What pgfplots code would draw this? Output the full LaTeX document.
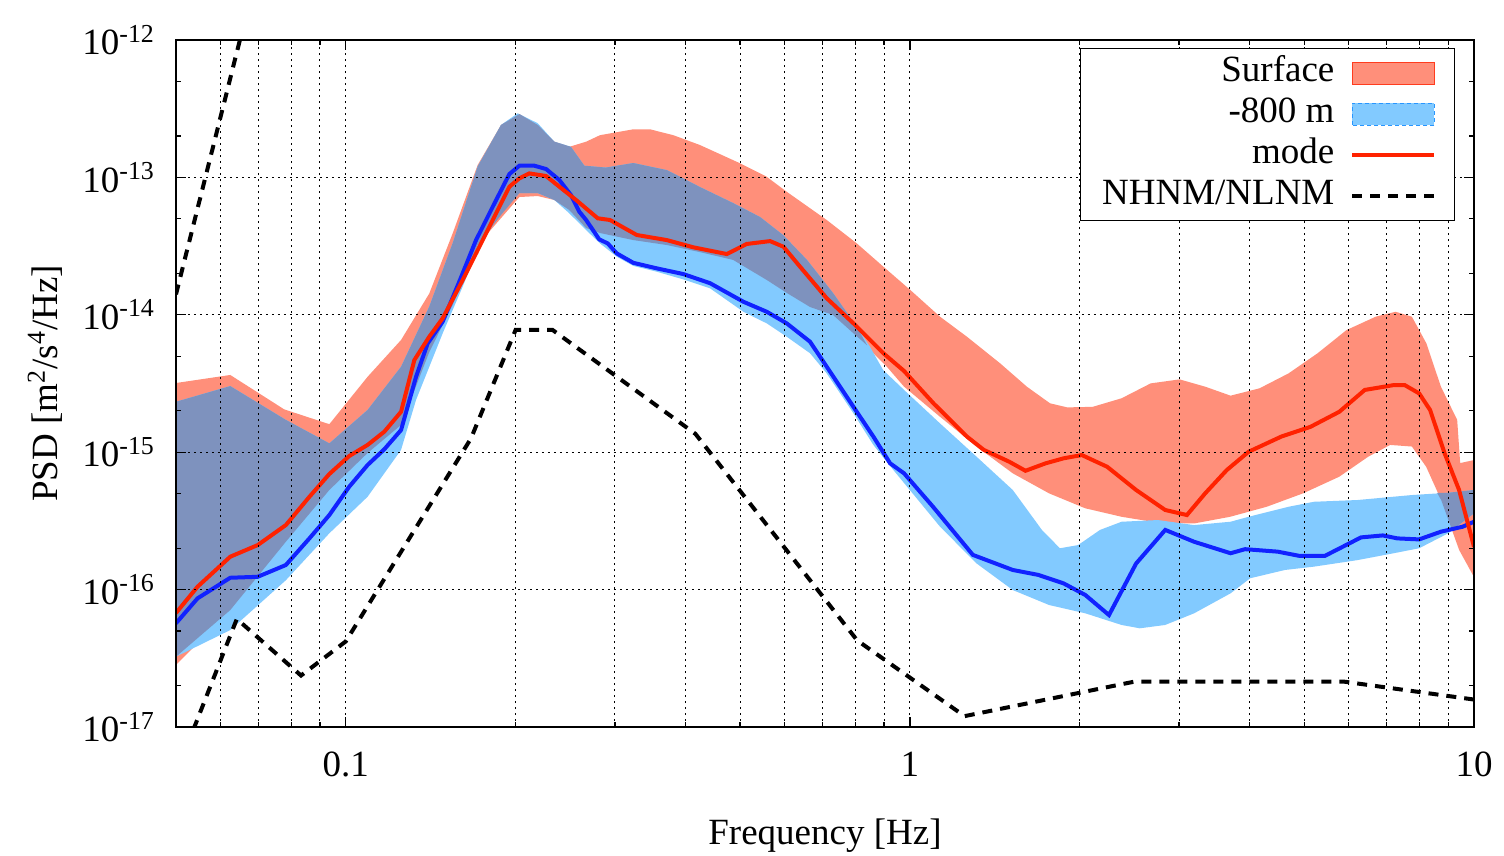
\documentclass[border=0pt]{standalone}
\usepackage{fontspec}
\setmainfont{Liberation Serif}
\usepackage{pgfplots}
\pgfplotsset{compat=1.18}
\definecolor{surf}{RGB}{255,143,122}
\definecolor{surfedge}{RGB}{255,60,30}
\definecolor{deep}{RGB}{130,202,255}
\definecolor{deepedge}{RGB}{40,150,255}
\definecolor{ovl}{RGB}{126,146,190}
\definecolor{modered}{RGB}{255,34,0}
\definecolor{modeblue}{RGB}{17,34,255}
\begin{document}
\begin{tikzpicture}[font=\fontsize{18.5}{22}\selectfont]
\begin{axis}[
  scale only axis, width=649pt, height=343.5pt,
  xmode=log, ymode=log,
  xmin=0.05, xmax=10, ymin=1e-17, ymax=1e-12,
  xtick={0.1,1,10}, xticklabels={0.1,1,10},
  minor xtick={0.06,0.07,0.08,0.09,0.2,0.3,0.4,0.5,0.6,0.7,0.8,0.9,2,3,4,5,6,7,8,9},
  ytick={1e-17,1e-16,1e-15,1e-14,1e-13,1e-12},
  yticklabels={10\textsuperscript{-17},10\textsuperscript{-16},10\textsuperscript{-15},10\textsuperscript{-14},10\textsuperscript{-13},10\textsuperscript{-12}},
  minor ytick={2e-17,5e-17,2e-16,5e-16,2e-15,5e-15,2e-14,5e-14,2e-13,5e-13},
  xmajorgrids=true, xminorgrids=true, ymajorgrids=true,
  major grid style={black, line width=0.5pt, dash pattern=on 0.8pt off 2.2pt},
  minor grid style={black, line width=0.5pt, dash pattern=on 0.8pt off 2.2pt},
  major tick length=5pt, minor tick length=2.5pt,
  every tick/.style={black, line width=0.6pt},
  axis line style={line width=0.9pt},
  axis on top,
  xticklabel style={yshift=-9pt},
  yticklabel style={xshift=-7pt},
  xlabel={Frequency [Hz]},
  ylabel={PSD [m\textsuperscript{2}/s\textsuperscript{4}/Hz]},
  xlabel style={at={(axis description cs:0.5,-0.1586)}, anchor=center},
  ylabel style={at={(axis description cs:-0.1009,0.5)}, anchor=center},
  legend cell align=right, legend plot pos=right,
  legend style={at={(1,1)}, anchor=north east, xshift=-9.5pt, yshift=-4pt,
    draw=black, line width=0.6pt, fill=white,
    inner xsep=9pt, inner ysep=2pt, row sep=0pt, column sep=6pt,
    nodes={inner sep=2pt, text height=12.5pt, text depth=4pt},
    font=\fontsize{18.5}{22}\selectfont},
]
% Surface band
\addplot[fill=surf, draw=none, forget plot] coordinates {
(0.05,3.19e-15) (0.0624,3.65e-15) (0.0778,2.05e-15) (0.0935,1.60e-15) (0.1093,3.54e-15)
(0.1253,6.56e-15) (0.1406,1.43e-14) (0.1547,3.92e-14) (0.1713,1.231e-13) (0.1885,2.41e-13)
(0.2031,2.89e-13) (0.2189,2.41e-13) (0.2343,1.82e-13) (0.2490,1.67e-13) (0.2667,1.82e-13)
(0.2823,2.03e-13) (0.3234,2.24e-13) (0.3462,2.24e-13) (0.3807,2.03e-13) (0.4246,1.72e-13)
(0.5000,1.267e-13) (0.5574,1.012e-13) (0.6048,7.87e-14) (0.7122,4.90e-14) (0.8052,3.31e-14)
(0.8975,2.24e-14) (1.001,1.52e-14) (1.131,9.69e-15) (1.262,6.93e-15) (1.445,4.44e-15)
(1.612,3.00e-15) (1.772,2.27e-15) (1.901,2.12e-15) (2.109,2.14e-15) (2.373,2.47e-15)
(2.672,3.17e-15) (3.008,3.39e-15) (3.338,3.00e-15) (3.703,2.58e-15) (4.168,2.92e-15)
(4.692,3.75e-15) (5.281,5.25e-15) (5.944,7.75e-15) (6.694,9.69e-15) (7.261,1.053e-14)
(7.762,9.69e-15) (8.234,6.20e-15) (8.737,3.00e-15) (9.337,1.72e-15) (9.452,8.34e-16)
(10,8.77e-16)
(10,1.235e-16) (9.414,1.94e-16) (8.746,4.49e-16) (8.226,7.84e-16) (7.762,1.10e-15)
(7.101,1.13e-15) (6.492,9.27e-16) (5.768,6.63e-16) (4.977,5.02e-16) (4.291,4.01e-16)
(3.696,3.39e-16) (3.190,3.03e-16) (2.753,3.07e-16) (2.373,3.39e-16) (2.045,3.91e-16)
(1.765,5.02e-16) (1.522,7.02e-16) (1.313,1.10e-15) (1.131,1.81e-15) (0.9765,3.00e-15)
(0.9112,4.17e-15) (0.8397,5.83e-15) (0.7932,7.37e-15) (0.7309,9.97e-15) (0.6653,1.14e-14)
(0.6056,1.44e-14) (0.5580,1.79e-14) (0.4860,2.51e-14) (0.4246,2.86e-14) (0.3711,3.22e-14)
(0.3234,3.50e-14) (0.2823,3.94e-14) (0.2667,4.28e-14) (0.2490,5.79e-14) (0.2343,6.85e-14)
(0.2189,7.32e-14) (0.2031,7.20e-14) (0.1885,5.06e-14) (0.1713,3.22e-14) (0.1547,1.18e-14)
(0.1406,5.36e-15) (0.1253,1.58e-15) (0.1093,9.87e-16) (0.0935,5.31e-16) (0.0783,2.23e-16)
(0.0624,7.10e-17) (0.05,2.83e-17)
} -- cycle;
% -800 m band
\addplot[fill=deep, draw=none, forget plot] coordinates {
(0.05,2.33e-15) (0.0624,3.03e-15) (0.0783,1.72e-15) (0.0935,1.16e-15) (0.1093,2.03e-15)
(0.1253,4.19e-15) (0.1406,1.15e-14) (0.1547,3.33e-14) (0.1713,1.20e-13) (0.1885,2.41e-13)
(0.2017,2.93e-13) (0.2189,2.48e-13) (0.2343,1.82e-13) (0.2507,1.67e-13) (0.2648,1.217e-13)
(0.2892,1.18e-13) (0.3234,1.273e-13) (0.3711,1.13e-13) (0.4246,8.51e-14) (0.4860,6.51e-14)
(0.5426,5.15e-14) (0.5959,3.81e-14) (0.6571,2.51e-14) (0.7309,1.44e-14) (0.8060,8.15e-15)
(0.8501,5.83e-15) (0.8963,3.97e-15) (0.9765,2.84e-15) (1.131,1.62e-15) (1.313,9.27e-16)
(1.522,5.31e-16) (1.714,2.72e-16) (1.845,2.00e-16) (1.987,2.11e-16) (2.173,2.72e-16)
(2.373,3.12e-16) (2.753,3.21e-16) (3.190,2.95e-16) (3.703,3.12e-16) (3.986,3.39e-16)
(4.692,4.01e-16) (5.204,4.36e-16) (6.216,4.49e-16) (7.762,4.88e-16) (9.001,5.07e-16)
(10,5.31e-16)
(10,3.59e-16) (9.001,2.57e-16) (7.995,2.00e-16) (7.206,1.84e-16) (6.216,1.64e-16)
(5.204,1.47e-16) (4.623,1.39e-16) (4.011,1.21e-16) (3.703,9.40e-17) (3.190,6.72e-17)
(2.835,5.53e-17) (2.556,5.23e-17) (2.373,5.53e-17) (2.047,6.72e-17) (1.765,7.73e-17)
(1.522,9.93e-17) (1.313,1.55e-16) (1.131,2.87e-16) (0.9765,5.97e-16) (0.9348,7.42e-16)
(0.8615,1.13e-15) (0.7943,1.92e-15) (0.7122,3.75e-15) (0.6653,5.25e-15) (0.6048,6.93e-15)
(0.5574,8.67e-15) (0.5068,1.053e-14) (0.4422,1.56e-14) (0.3967,1.81e-14) (0.3557,2.06e-14)
(0.3234,2.27e-14) (0.3022,2.65e-14) (0.2823,3.31e-14) (0.2667,4.14e-14) (0.2490,5.48e-14)
(0.2343,6.85e-14) (0.2189,7.70e-14) (0.2031,7.70e-14) (0.1869,5.33e-14) (0.1713,2.96e-14)
(0.1611,1.60e-14) (0.1485,7.33e-15) (0.1332,2.40e-15) (0.1253,1.04e-15) (0.1093,4.74e-16)
(0.0935,2.57e-16) (0.0783,1.17e-16) (0.0624,5.08e-17) (0.05,3.25e-17)
} -- cycle;
% overlap of the two bands
\addplot[fill=ovl, draw=none, forget plot] coordinates {
(0.05,2.33e-15) (0.0624,3.03e-15) (0.0783,1.72e-15) (0.0935,1.16e-15) (0.1093,2.03e-15)
(0.1253,4.19e-15) (0.1406,1.15e-14) (0.1547,3.33e-14) (0.1713,1.20e-13) (0.1885,2.41e-13)
(0.2031,2.89e-13) (0.2189,2.41e-13) (0.2343,1.82e-13) (0.2507,1.67e-13) (0.2648,1.217e-13)
(0.2892,1.18e-13) (0.3234,1.273e-13) (0.3711,1.13e-13) (0.4246,8.51e-14) (0.4860,6.51e-14)
(0.5426,5.15e-14) (0.5959,3.81e-14) (0.6571,2.51e-14) (0.7309,1.44e-14) (0.8060,8.15e-15)
(0.8397,6.0e-15)
(0.7932,7.37e-15) (0.7309,9.97e-15) (0.6653,1.14e-14) (0.6056,1.44e-14) (0.5580,1.79e-14)
(0.4860,2.51e-14) (0.4246,2.86e-14) (0.3711,3.22e-14) (0.3234,3.50e-14) (0.2823,3.94e-14)
(0.2667,4.28e-14) (0.2490,5.79e-14) (0.2343,6.85e-14) (0.2189,7.70e-14) (0.2031,7.70e-14)
(0.1885,5.33e-14) (0.1713,3.22e-14) (0.1547,1.18e-14) (0.1406,5.36e-15) (0.1253,1.58e-15)
(0.1093,9.87e-16) (0.0935,5.31e-16) (0.0783,2.23e-16) (0.0624,7.10e-17) (0.05,3.25e-17)
} -- cycle;
\addplot[fill=ovl, draw=none, forget plot] coordinates {
(8.605,5.05e-16) (9.001,5.07e-16) (10,5.31e-16) (10,3.59e-16) (9.146,2.71e-16)
(9.001,3.24e-16) (8.746,4.49e-16)
} -- cycle;
% NLNM
\addplot[black, line width=2pt, dash pattern=on 5pt off 4pt, forget plot] coordinates {
(0.0457,1.78e-18) (0.0641,6.12e-17) (0.0833,2.37e-17) (0.1,4.2e-17) (0.1667,1.26e-15)
(0.2,7.76e-15) (0.2326,7.76e-15) (0.4167,1.36e-15) (0.8065,4.27e-17) (1.25,1.2e-17)
(2.5,2.14e-17) (5.882,2.14e-17) (10,1.585e-17)
};
% NHNM
\addplot[black, line width=2pt, dash pattern=on 5pt off 4pt, forget plot] coordinates {
(0.05,1.41e-14) (0.0649,1.0e-12) (0.1266,4.47e-12)
};
% -800 m mode
\addplot[modeblue, line width=2pt, forget plot] coordinates {
(0.05,5.69e-17) (0.0546,8.64e-17) (0.0624,1.22e-16) (0.0698,1.24e-16) (0.0783,1.51e-16)
(0.0862,2.36e-16) (0.0935,3.49e-16) (0.1014,5.61e-16) (0.1093,8.07e-16) (0.1170,1.05e-15)
(0.1253,1.45e-15) (0.1332,3.54e-15) (0.1397,6.20e-15) (0.1485,8.91e-15) (0.1589,1.74e-14)
(0.1702,3.50e-14) (0.1822,6.12e-14) (0.1950,1.058e-13) (0.2031,1.217e-13) (0.2159,1.217e-13)
(0.2265,1.151e-13) (0.2391,9.57e-14) (0.2507,7.44e-14) (0.2594,5.63e-14) (0.2667,4.90e-14)
(0.2814,3.54e-14) (0.2913,3.31e-14) (0.3022,2.80e-14) (0.3234,2.39e-14) (0.3557,2.18e-14)
(0.3967,1.98e-14) (0.4422,1.70e-14) (0.5068,1.245e-14) (0.5574,1.053e-14) (0.6048,8.67e-15)
(0.6653,6.37e-15) (0.7122,4.19e-15) (0.7943,2.14e-15) (0.8615,1.30e-15) (0.9224,8.30e-16)
(0.9765,7.02e-16) (1.099,4.01e-16) (1.293,1.79e-16) (1.522,1.39e-16) (1.689,1.28e-16)
(1.873,1.11e-16) (2.047,9.13e-17) (2.254,6.53e-17) (2.518,1.55e-16) (2.836,2.72e-16)
(3.191,2.23e-16) (3.703,1.84e-16) (3.928,1.97e-16) (4.487,1.89e-16) (4.905,1.76e-16)
(5.440,1.76e-16) (6.307,2.40e-16) (6.894,2.48e-16) (7.314,2.36e-16) (7.995,2.32e-16)
(8.737,2.64e-16) (9.548,2.87e-16) (10,3.12e-16)
};
% Surface mode
\addplot[modered, line width=2pt, forget plot] coordinates {
(0.05,6.76e-17) (0.0546,1.05e-16) (0.0624,1.736e-16) (0.0698,2.11e-16) (0.0783,2.95e-16)
(0.0862,4.74e-16) (0.0935,6.94e-16) (0.1014,9.38e-16) (0.1093,1.13e-15) (0.1170,1.41e-15)
(0.1253,1.97e-15) (0.1323,4.69e-15) (0.1406,6.93e-15) (0.1485,9.43e-15) (0.1589,1.60e-14)
(0.1702,2.80e-14) (0.1822,4.90e-14) (0.1950,8.56e-14) (0.2031,9.85e-14) (0.2115,1.07e-13)
(0.2265,1.024e-13) (0.2391,8.56e-14) (0.2560,6.85e-14) (0.2797,5.04e-14) (0.2940,4.90e-14)
(0.3280,3.81e-14) (0.3707,3.50e-14) (0.4131,3.10e-14) (0.4736,2.77e-14) (0.5139,3.28e-14)
(0.5651,3.44e-14) (0.5968,3.13e-14) (0.6387,2.24e-14) (0.7122,1.32e-14) (0.7943,8.67e-15)
(0.8975,5.25e-15) (0.9765,3.90e-15) (1.101,2.27e-15) (1.262,1.30e-15) (1.352,1.04e-15)
(1.500,8.53e-16) (1.603,7.33e-16) (1.740,8.30e-16) (1.873,9.03e-16) (2.017,9.54e-16)
(2.237,7.84e-16) (2.518,5.31e-16) (2.835,3.80e-16) (3.098,3.49e-16) (3.338,5.02e-16)
(3.646,7.42e-16) (3.986,1.008e-15) (4.555,1.30e-15) (5.129,1.53e-15) (5.771,1.97e-15)
(6.403,2.84e-15) (7.206,3.08e-15) (7.538,3.08e-15) (7.995,2.68e-15) (8.360,2.03e-15)
(8.870,9.82e-16) (9.410,5.31e-16) (10,2.05e-16)
};
\addlegendimage{legend image code/.code={\draw[fill=surf, draw=surfedge, line width=0.6pt] (0pt,-5.5pt) rectangle (41pt,5.5pt);}}
\addlegendentry{Surface}
\addlegendimage{legend image code/.code={\draw[fill=deep, draw=deepedge, line width=0.6pt, dash pattern=on 2pt off 1.5pt] (0pt,-5.5pt) rectangle (41pt,5.5pt);}}
\addlegendentry{-800 m}
\addlegendimage{legend image code/.code={\draw[modered, line width=2pt] (0pt,0pt) -- (41pt,0pt);}}
\addlegendentry{mode}
\addlegendimage{legend image code/.code={\draw[black, line width=2pt, dash pattern=on 5pt off 4pt] (0pt,0pt) -- (41pt,0pt);}}
\addlegendentry{NHNM/NLNM}
\end{axis}
\pgfresetboundingbox
\useasboundingbox (-88pt,-64.5pt) rectangle (664pt,363.5pt);
\end{tikzpicture}
\end{document}
